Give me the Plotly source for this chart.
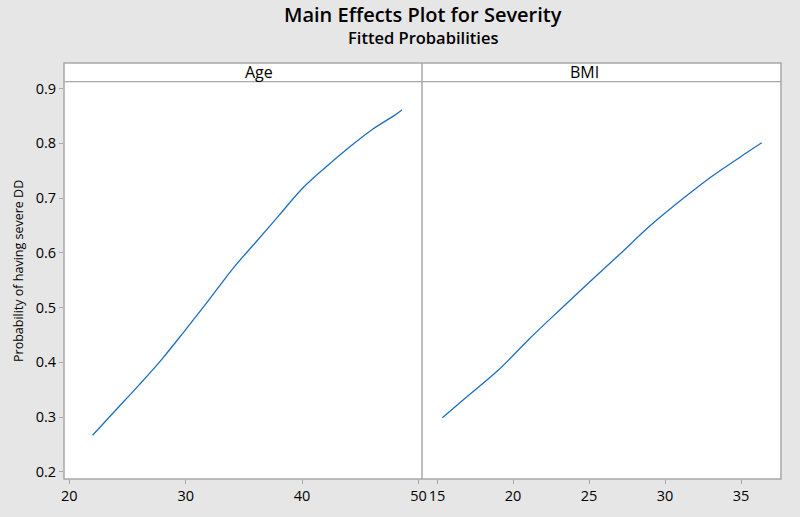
import plotly.graph_objects as go

# Data

age_values = [22, 24, 26, 28, 30, 32, 34, 36, 38, 40, 42, 44, 46, 48, 48.57]
age_probs = [0.267, 0.313, 0.359, 0.407, 0.460, 0.514, 0.570, 0.619, 0.668, 0.717, 0.756, 0.792, 0.825, 0.852, 0.861]

bmi_values = [15.35, 17, 19, 21, 23, 25, 27, 29, 31, 33, 35, 36.36]
bmi_probs = [0.299, 0.338, 0.385, 0.441, 0.494, 0.546, 0.597, 0.649, 0.695, 0.738, 0.776, 0.801]

panel_names = ["Age", "BMI"]
age_ticks = [20, 30, 40, 50]
bmi_ticks = [15, 20, 25, 30, 35]
prob_ticks = [0.2, 0.3, 0.4, 0.5, 0.6, 0.7, 0.8, 0.9]

# Styling
FONT = "Open Sans, Noto Sans, DejaVu Sans, sans-serif"
FRAME = "#a8a8a8"
LINE_BLUE = "#1f6ebf"
SPLIT = 0.4993        # x position of the panel divider (paper coords)
STRIP_BOTTOM = 0.955  # y where the panel header strip starts

fig = go.Figure()

fig.add_trace(go.Scatter(x=age_values, y=age_probs, mode="lines",
                         line=dict(color=LINE_BLUE, width=1.3, shape="spline"),
                         xaxis="x", yaxis="y", showlegend=False))
fig.add_trace(go.Scatter(x=bmi_values, y=bmi_probs, mode="lines",
                         line=dict(color=LINE_BLUE, width=1.3, shape="spline"),
                         xaxis="x2", yaxis="y2", showlegend=False))

axis_common = dict(ticks="outside", ticklen=4, tickcolor=FRAME, showgrid=False,
                   zeroline=False, showline=False,
                   tickfont=dict(family=FONT, size=14.5, color="black"))

fig.update_layout(
    width=800, height=517,
    paper_bgcolor="#e6e6e6",
    plot_bgcolor="white",
    margin=dict(l=64, r=19, t=63, b=33),
    font=dict(family=FONT, color="black"),
    xaxis=dict(domain=[0, SPLIT], range=[19.545, 50.3], tickvals=age_ticks, **axis_common),
    xaxis2=dict(domain=[SPLIT, 1], range=[14.01, 37.63], tickvals=bmi_ticks, anchor="y2", **axis_common),
    yaxis=dict(domain=[0, STRIP_BOTTOM], range=[0.187, 0.9126], tickvals=prob_ticks,
               tickformat=".1f", **axis_common),
    yaxis2=dict(domain=[0, STRIP_BOTTOM], range=[0.187, 0.9126], anchor="x2",
                matches="y", showticklabels=False, ticks="", showgrid=False, zeroline=False),
)

# Title and subtitle, centred over the panels
fig.add_annotation(text="Main Effects Plot for Severity", xref="paper", yref="paper",
                   x=0.5, y=1, yshift=49, showarrow=False, yanchor="middle",
                   font=dict(family=FONT, size=20, weight=600, color="black"))
fig.add_annotation(text="Fitted Probabilities", xref="paper", yref="paper",
                   x=0.5, y=1, yshift=26, showarrow=False, yanchor="middle",
                   font=dict(family=FONT, size=16.5, weight=600, color="black"))

# Y axis title
fig.add_annotation(text="Probability of having severe DD", xref="paper", yref="paper",
                   x=0, xshift=-46, y=0.5, textangle=-90, showarrow=False,
                   xanchor="center", yanchor="middle",
                   font=dict(family=FONT, size=12.5, color="black"))

# Panel header strip labels
for name, cx in zip(panel_names, [SPLIT / 2, (1 + SPLIT) / 2]):
    fig.add_annotation(text=name, xref="paper", yref="paper",
                       x=cx, y=(1 + STRIP_BOTTOM) / 2, showarrow=False, yanchor="middle",
                       font=dict(family=FONT, size=16, color="black"))

# Frame, header strip and divider
fig.add_shape(type="rect", xref="paper", yref="paper", x0=0, x1=1, y0=STRIP_BOTTOM, y1=1,
              fillcolor="white", line=dict(width=0), layer="below")
fig.add_shape(type="rect", xref="paper", yref="paper", x0=0, x1=1, y0=0, y1=1,
              line=dict(color=FRAME, width=1.5))
fig.add_shape(type="line", xref="paper", yref="paper", x0=0, x1=1, y0=STRIP_BOTTOM, y1=STRIP_BOTTOM,
              line=dict(color=FRAME, width=1.2))
fig.add_shape(type="line", xref="paper", yref="paper", x0=SPLIT, x1=SPLIT, y0=0, y1=1,
              line=dict(color=FRAME, width=1.5))

# drop the default page margin so the figure sits at the window's corner
fig.write_html("out.html", config={"displayModeBar": False},
               post_script="document.body.style.margin='0';")
